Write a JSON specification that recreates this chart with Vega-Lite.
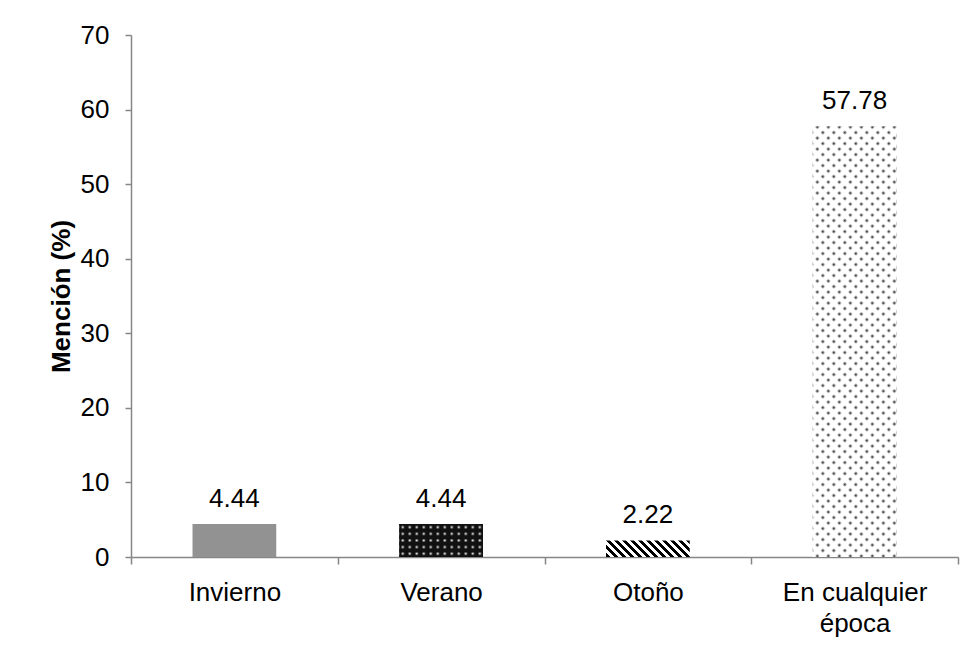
{
  "$schema": "https://vega.github.io/schema/vega-lite/v6.json",
  "width": 827,
  "height": 522,
  "autosize": "none",
  "padding": {"left": 131, "top": 35, "right": 19, "bottom": 94},
  "background": "white",
  "config": {
    "view": {"stroke": null},
    "font": "Liberation Sans",
    "axis": {
      "domainColor": "#868686",
      "domainWidth": 1.5,
      "tickColor": "#868686",
      "tickWidth": 1.5,
      "grid": false,
      "labelColor": "#000000",
      "labelFont": "Liberation Sans",
      "labelFontSize": 26,
      "titleColor": "#000000",
      "titleFont": "Liberation Sans"
    }
  },
  "data": {
    "values": [
      {"categoria": "Invierno", "pct": 4.44},
      {"categoria": "Verano", "pct": 4.44},
      {"categoria": "Otoño", "pct": 2.22},
      {"categoria": "En cualquier época", "pct": 57.78}
    ]
  },
  "encoding": {
    "x": {
      "field": "categoria",
      "type": "nominal",
      "sort": null,
      "scale": {
        "domain": ["Invierno", "Verano", "Otoño", "En cualquier época"],
        "paddingInner": 0,
        "paddingOuter": 0
      },
      "axis": {
        "title": null,
        "labelAngle": 0,
        "tickBand": "extent",
        "tickSize": 7,
        "labelPadding": 15,
        "labelLineHeight": 31,
        "labelExpr": "datum.value == 'En cualquier época' ? ['En cualquier', 'época'] : datum.value"
      }
    },
    "y": {
      "field": "pct",
      "type": "quantitative",
      "scale": {"domain": [0, 70], "nice": false},
      "axis": {
        "title": "Mención (%)",
        "titleFontSize": 26,
        "titleFontWeight": "bold",
        "titlePadding": 6,
        "values": [0, 10, 20, 30, 40, 50, 60, 70],
        "tickSize": 6,
        "labelPadding": 16
      }
    }
  },
  "layer": [
    {
      "transform": [{"filter": "datum.categoria === 'Invierno'"}],
      "mark": {"type": "bar", "width": {"band": 0.405}, "fill": "#929292"}
    },
    {
      "transform": [{"filter": "datum.categoria === 'Verano'"}],
      "mark": {
        "type": "bar",
        "width": {"band": 0.405},
        "fill": {
          "gradient": "linear", "x1": 0, "y1": 0, "x2": 1, "y2": 0,
          "stops": [
            {"offset": 0.0179, "color": "#111111"}, {"offset": 0.0418, "color": "#ffffff"}, {"offset": 0.0657, "color": "#111111"},
            {"offset": 0.1015, "color": "#111111"}, {"offset": 0.1254, "color": "#ffffff"}, {"offset": 0.1493, "color": "#111111"},
            {"offset": 0.1852, "color": "#111111"}, {"offset": 0.2091, "color": "#ffffff"}, {"offset": 0.2330, "color": "#111111"},
            {"offset": 0.2688, "color": "#111111"}, {"offset": 0.2927, "color": "#ffffff"}, {"offset": 0.3166, "color": "#111111"},
            {"offset": 0.3524, "color": "#111111"}, {"offset": 0.3763, "color": "#ffffff"}, {"offset": 0.4002, "color": "#111111"},
            {"offset": 0.4361, "color": "#111111"}, {"offset": 0.4600, "color": "#ffffff"}, {"offset": 0.4839, "color": "#111111"},
            {"offset": 0.5197, "color": "#111111"}, {"offset": 0.5436, "color": "#ffffff"}, {"offset": 0.5675, "color": "#111111"},
            {"offset": 0.6033, "color": "#111111"}, {"offset": 0.6272, "color": "#ffffff"}, {"offset": 0.6511, "color": "#111111"},
            {"offset": 0.6870, "color": "#111111"}, {"offset": 0.7109, "color": "#ffffff"}, {"offset": 0.7348, "color": "#111111"},
            {"offset": 0.7706, "color": "#111111"}, {"offset": 0.7945, "color": "#ffffff"}, {"offset": 0.8184, "color": "#111111"},
            {"offset": 0.8542, "color": "#111111"}, {"offset": 0.8781, "color": "#ffffff"}, {"offset": 0.9020, "color": "#111111"},
            {"offset": 0.9379, "color": "#111111"}, {"offset": 0.9618, "color": "#ffffff"}, {"offset": 0.9857, "color": "#111111"}
          ]
        }
      }
    },
    {
      "transform": [{"filter": "datum.categoria === 'Verano'"}],
      "mark": {
        "type": "bar",
        "width": {"band": 0.405},
        "fill": {
          "gradient": "linear", "x1": 0, "y1": 0, "x2": 0, "y2": 1,
          "stops": [
            {"offset": 0.04, "color": "#111111"}, {"offset": 0.10, "color": "rgba(17,17,17,0)"}, {"offset": 0.16, "color": "#111111"},
            {"offset": 0.24, "color": "#111111"}, {"offset": 0.30, "color": "rgba(17,17,17,0)"}, {"offset": 0.36, "color": "#111111"},
            {"offset": 0.44, "color": "#111111"}, {"offset": 0.50, "color": "rgba(17,17,17,0)"}, {"offset": 0.56, "color": "#111111"},
            {"offset": 0.64, "color": "#111111"}, {"offset": 0.70, "color": "rgba(17,17,17,0)"}, {"offset": 0.76, "color": "#111111"},
            {"offset": 0.84, "color": "#111111"}, {"offset": 0.90, "color": "rgba(17,17,17,0)"}, {"offset": 0.96, "color": "#111111"}
          ]
        }
      }
    },
    {
      "transform": [{"filter": "datum.categoria === 'Otoño'"}],
      "mark": {
        "type": "bar",
        "width": {"band": 0.405},
        "fill": {
          "gradient": "linear", "x1": 0, "y1": 1, "x2": 1.1527, "y2": 0.7721,
          "stops": [
            {"offset": 0, "color": "#000000"}, {"offset": 0.0399, "color": "#000000"}, {"offset": 0.0399, "color": "#ffffff"}, {"offset": 0.0798, "color": "#ffffff"},
            {"offset": 0.0798, "color": "#000000"}, {"offset": 0.1197, "color": "#000000"}, {"offset": 0.1197, "color": "#ffffff"}, {"offset": 0.1596, "color": "#ffffff"},
            {"offset": 0.1596, "color": "#000000"}, {"offset": 0.1995, "color": "#000000"}, {"offset": 0.1995, "color": "#ffffff"}, {"offset": 0.2394, "color": "#ffffff"},
            {"offset": 0.2394, "color": "#000000"}, {"offset": 0.2793, "color": "#000000"}, {"offset": 0.2793, "color": "#ffffff"}, {"offset": 0.3192, "color": "#ffffff"},
            {"offset": 0.3192, "color": "#000000"}, {"offset": 0.3591, "color": "#000000"}, {"offset": 0.3591, "color": "#ffffff"}, {"offset": 0.3990, "color": "#ffffff"},
            {"offset": 0.3990, "color": "#000000"}, {"offset": 0.4389, "color": "#000000"}, {"offset": 0.4389, "color": "#ffffff"}, {"offset": 0.4788, "color": "#ffffff"},
            {"offset": 0.4788, "color": "#000000"}, {"offset": 0.5187, "color": "#000000"}, {"offset": 0.5187, "color": "#ffffff"}, {"offset": 0.5586, "color": "#ffffff"},
            {"offset": 0.5586, "color": "#000000"}, {"offset": 0.5985, "color": "#000000"}, {"offset": 0.5985, "color": "#ffffff"}, {"offset": 0.6384, "color": "#ffffff"},
            {"offset": 0.6384, "color": "#000000"}, {"offset": 0.6783, "color": "#000000"}, {"offset": 0.6783, "color": "#ffffff"}, {"offset": 0.7182, "color": "#ffffff"},
            {"offset": 0.7182, "color": "#000000"}, {"offset": 0.7581, "color": "#000000"}, {"offset": 0.7581, "color": "#ffffff"}, {"offset": 0.7980, "color": "#ffffff"},
            {"offset": 0.7980, "color": "#000000"}, {"offset": 0.8379, "color": "#000000"}, {"offset": 0.8379, "color": "#ffffff"}, {"offset": 0.8778, "color": "#ffffff"},
            {"offset": 0.8778, "color": "#000000"}, {"offset": 0.9177, "color": "#000000"}, {"offset": 0.9177, "color": "#ffffff"}, {"offset": 0.9576, "color": "#ffffff"},
            {"offset": 0.9576, "color": "#000000"}, {"offset": 0.9975, "color": "#000000"}, {"offset": 0.9975, "color": "#ffffff"}, {"offset": 1, "color": "#ffffff"}
          ]
        }
      }
    },
    {
      "transform": [{"filter": "datum.categoria === 'En cualquier época'"}],
      "mark": {
        "type": "bar",
        "width": {"band": 0.405},
        "fill": {
          "gradient": "linear", "x1": 0, "y1": 0, "x2": 0.22354, "y2": 1.15083,
          "stops": [
            {"offset": 0.0047, "color": "#ffffff"}, {"offset": 0.0107, "color": "#111111"}, {"offset": 0.0167, "color": "#ffffff"},
            {"offset": 0.0261, "color": "#ffffff"}, {"offset": 0.0321, "color": "#111111"}, {"offset": 0.0381, "color": "#ffffff"},
            {"offset": 0.0474, "color": "#ffffff"}, {"offset": 0.0534, "color": "#111111"}, {"offset": 0.0594, "color": "#ffffff"},
            {"offset": 0.0688, "color": "#ffffff"}, {"offset": 0.0748, "color": "#111111"}, {"offset": 0.0808, "color": "#ffffff"},
            {"offset": 0.0902, "color": "#ffffff"}, {"offset": 0.0962, "color": "#111111"}, {"offset": 0.1022, "color": "#ffffff"},
            {"offset": 0.1116, "color": "#ffffff"}, {"offset": 0.1176, "color": "#111111"}, {"offset": 0.1236, "color": "#ffffff"},
            {"offset": 0.1329, "color": "#ffffff"}, {"offset": 0.1389, "color": "#111111"}, {"offset": 0.1449, "color": "#ffffff"},
            {"offset": 0.1543, "color": "#ffffff"}, {"offset": 0.1603, "color": "#111111"}, {"offset": 0.1663, "color": "#ffffff"},
            {"offset": 0.1757, "color": "#ffffff"}, {"offset": 0.1817, "color": "#111111"}, {"offset": 0.1877, "color": "#ffffff"},
            {"offset": 0.1971, "color": "#ffffff"}, {"offset": 0.2031, "color": "#111111"}, {"offset": 0.2091, "color": "#ffffff"},
            {"offset": 0.2184, "color": "#ffffff"}, {"offset": 0.2244, "color": "#111111"}, {"offset": 0.2304, "color": "#ffffff"},
            {"offset": 0.2398, "color": "#ffffff"}, {"offset": 0.2458, "color": "#111111"}, {"offset": 0.2518, "color": "#ffffff"},
            {"offset": 0.2612, "color": "#ffffff"}, {"offset": 0.2672, "color": "#111111"}, {"offset": 0.2732, "color": "#ffffff"},
            {"offset": 0.2826, "color": "#ffffff"}, {"offset": 0.2886, "color": "#111111"}, {"offset": 0.2946, "color": "#ffffff"},
            {"offset": 0.3040, "color": "#ffffff"}, {"offset": 0.3100, "color": "#111111"}, {"offset": 0.3160, "color": "#ffffff"},
            {"offset": 0.3253, "color": "#ffffff"}, {"offset": 0.3313, "color": "#111111"}, {"offset": 0.3373, "color": "#ffffff"},
            {"offset": 0.3467, "color": "#ffffff"}, {"offset": 0.3527, "color": "#111111"}, {"offset": 0.3587, "color": "#ffffff"},
            {"offset": 0.3681, "color": "#ffffff"}, {"offset": 0.3741, "color": "#111111"}, {"offset": 0.3801, "color": "#ffffff"},
            {"offset": 0.3895, "color": "#ffffff"}, {"offset": 0.3955, "color": "#111111"}, {"offset": 0.4015, "color": "#ffffff"},
            {"offset": 0.4108, "color": "#ffffff"}, {"offset": 0.4168, "color": "#111111"}, {"offset": 0.4228, "color": "#ffffff"},
            {"offset": 0.4322, "color": "#ffffff"}, {"offset": 0.4382, "color": "#111111"}, {"offset": 0.4442, "color": "#ffffff"},
            {"offset": 0.4536, "color": "#ffffff"}, {"offset": 0.4596, "color": "#111111"}, {"offset": 0.4656, "color": "#ffffff"},
            {"offset": 0.4750, "color": "#ffffff"}, {"offset": 0.4810, "color": "#111111"}, {"offset": 0.4870, "color": "#ffffff"},
            {"offset": 0.4963, "color": "#ffffff"}, {"offset": 0.5023, "color": "#111111"}, {"offset": 0.5083, "color": "#ffffff"},
            {"offset": 0.5177, "color": "#ffffff"}, {"offset": 0.5237, "color": "#111111"}, {"offset": 0.5297, "color": "#ffffff"},
            {"offset": 0.5391, "color": "#ffffff"}, {"offset": 0.5451, "color": "#111111"}, {"offset": 0.5511, "color": "#ffffff"},
            {"offset": 0.5605, "color": "#ffffff"}, {"offset": 0.5665, "color": "#111111"}, {"offset": 0.5725, "color": "#ffffff"},
            {"offset": 0.5818, "color": "#ffffff"}, {"offset": 0.5878, "color": "#111111"}, {"offset": 0.5938, "color": "#ffffff"},
            {"offset": 0.6032, "color": "#ffffff"}, {"offset": 0.6092, "color": "#111111"}, {"offset": 0.6152, "color": "#ffffff"},
            {"offset": 0.6246, "color": "#ffffff"}, {"offset": 0.6306, "color": "#111111"}, {"offset": 0.6366, "color": "#ffffff"},
            {"offset": 0.6460, "color": "#ffffff"}, {"offset": 0.6520, "color": "#111111"}, {"offset": 0.6580, "color": "#ffffff"},
            {"offset": 0.6673, "color": "#ffffff"}, {"offset": 0.6733, "color": "#111111"}, {"offset": 0.6793, "color": "#ffffff"},
            {"offset": 0.6887, "color": "#ffffff"}, {"offset": 0.6947, "color": "#111111"}, {"offset": 0.7007, "color": "#ffffff"},
            {"offset": 0.7101, "color": "#ffffff"}, {"offset": 0.7161, "color": "#111111"}, {"offset": 0.7221, "color": "#ffffff"},
            {"offset": 0.7315, "color": "#ffffff"}, {"offset": 0.7375, "color": "#111111"}, {"offset": 0.7435, "color": "#ffffff"},
            {"offset": 0.7528, "color": "#ffffff"}, {"offset": 0.7588, "color": "#111111"}, {"offset": 0.7648, "color": "#ffffff"},
            {"offset": 0.7742, "color": "#ffffff"}, {"offset": 0.7802, "color": "#111111"}, {"offset": 0.7862, "color": "#ffffff"},
            {"offset": 0.7956, "color": "#ffffff"}, {"offset": 0.8016, "color": "#111111"}, {"offset": 0.8076, "color": "#ffffff"},
            {"offset": 0.8170, "color": "#ffffff"}, {"offset": 0.8230, "color": "#111111"}, {"offset": 0.8290, "color": "#ffffff"},
            {"offset": 0.8384, "color": "#ffffff"}, {"offset": 0.8444, "color": "#111111"}, {"offset": 0.8504, "color": "#ffffff"},
            {"offset": 0.8597, "color": "#ffffff"}, {"offset": 0.8657, "color": "#111111"}, {"offset": 0.8717, "color": "#ffffff"},
            {"offset": 0.8811, "color": "#ffffff"}, {"offset": 0.8871, "color": "#111111"}, {"offset": 0.8931, "color": "#ffffff"},
            {"offset": 0.9025, "color": "#ffffff"}, {"offset": 0.9085, "color": "#111111"}, {"offset": 0.9145, "color": "#ffffff"},
            {"offset": 0.9239, "color": "#ffffff"}, {"offset": 0.9299, "color": "#111111"}, {"offset": 0.9359, "color": "#ffffff"},
            {"offset": 0.9452, "color": "#ffffff"}, {"offset": 0.9512, "color": "#111111"}, {"offset": 0.9572, "color": "#ffffff"},
            {"offset": 0.9666, "color": "#ffffff"}, {"offset": 0.9726, "color": "#111111"}, {"offset": 0.9786, "color": "#ffffff"},
            {"offset": 0.9880, "color": "#ffffff"}, {"offset": 0.9940, "color": "#111111"}, {"offset": 1, "color": "#ffffff"}
          ]
        }
      }
    },
    {
      "transform": [{"filter": "datum.categoria === 'En cualquier época'"}],
      "mark": {
        "type": "bar",
        "width": {"band": 0.405},
        "fill": {
          "gradient": "linear", "x1": 0, "y1": 1, "x2": 0.22354, "y2": -0.15083,
          "stops": [
            {"offset": 0.0047, "color": "#ffffff"}, {"offset": 0.0107, "color": "rgba(255,255,255,0)"}, {"offset": 0.0167, "color": "#ffffff"},
            {"offset": 0.0261, "color": "#ffffff"}, {"offset": 0.0321, "color": "rgba(255,255,255,0)"}, {"offset": 0.0381, "color": "#ffffff"},
            {"offset": 0.0474, "color": "#ffffff"}, {"offset": 0.0534, "color": "rgba(255,255,255,0)"}, {"offset": 0.0594, "color": "#ffffff"},
            {"offset": 0.0688, "color": "#ffffff"}, {"offset": 0.0748, "color": "rgba(255,255,255,0)"}, {"offset": 0.0808, "color": "#ffffff"},
            {"offset": 0.0902, "color": "#ffffff"}, {"offset": 0.0962, "color": "rgba(255,255,255,0)"}, {"offset": 0.1022, "color": "#ffffff"},
            {"offset": 0.1116, "color": "#ffffff"}, {"offset": 0.1176, "color": "rgba(255,255,255,0)"}, {"offset": 0.1236, "color": "#ffffff"},
            {"offset": 0.1329, "color": "#ffffff"}, {"offset": 0.1389, "color": "rgba(255,255,255,0)"}, {"offset": 0.1449, "color": "#ffffff"},
            {"offset": 0.1543, "color": "#ffffff"}, {"offset": 0.1603, "color": "rgba(255,255,255,0)"}, {"offset": 0.1663, "color": "#ffffff"},
            {"offset": 0.1757, "color": "#ffffff"}, {"offset": 0.1817, "color": "rgba(255,255,255,0)"}, {"offset": 0.1877, "color": "#ffffff"},
            {"offset": 0.1971, "color": "#ffffff"}, {"offset": 0.2031, "color": "rgba(255,255,255,0)"}, {"offset": 0.2091, "color": "#ffffff"},
            {"offset": 0.2184, "color": "#ffffff"}, {"offset": 0.2244, "color": "rgba(255,255,255,0)"}, {"offset": 0.2304, "color": "#ffffff"},
            {"offset": 0.2398, "color": "#ffffff"}, {"offset": 0.2458, "color": "rgba(255,255,255,0)"}, {"offset": 0.2518, "color": "#ffffff"},
            {"offset": 0.2612, "color": "#ffffff"}, {"offset": 0.2672, "color": "rgba(255,255,255,0)"}, {"offset": 0.2732, "color": "#ffffff"},
            {"offset": 0.2826, "color": "#ffffff"}, {"offset": 0.2886, "color": "rgba(255,255,255,0)"}, {"offset": 0.2946, "color": "#ffffff"},
            {"offset": 0.3040, "color": "#ffffff"}, {"offset": 0.3100, "color": "rgba(255,255,255,0)"}, {"offset": 0.3160, "color": "#ffffff"},
            {"offset": 0.3253, "color": "#ffffff"}, {"offset": 0.3313, "color": "rgba(255,255,255,0)"}, {"offset": 0.3373, "color": "#ffffff"},
            {"offset": 0.3467, "color": "#ffffff"}, {"offset": 0.3527, "color": "rgba(255,255,255,0)"}, {"offset": 0.3587, "color": "#ffffff"},
            {"offset": 0.3681, "color": "#ffffff"}, {"offset": 0.3741, "color": "rgba(255,255,255,0)"}, {"offset": 0.3801, "color": "#ffffff"},
            {"offset": 0.3895, "color": "#ffffff"}, {"offset": 0.3955, "color": "rgba(255,255,255,0)"}, {"offset": 0.4015, "color": "#ffffff"},
            {"offset": 0.4108, "color": "#ffffff"}, {"offset": 0.4168, "color": "rgba(255,255,255,0)"}, {"offset": 0.4228, "color": "#ffffff"},
            {"offset": 0.4322, "color": "#ffffff"}, {"offset": 0.4382, "color": "rgba(255,255,255,0)"}, {"offset": 0.4442, "color": "#ffffff"},
            {"offset": 0.4536, "color": "#ffffff"}, {"offset": 0.4596, "color": "rgba(255,255,255,0)"}, {"offset": 0.4656, "color": "#ffffff"},
            {"offset": 0.4750, "color": "#ffffff"}, {"offset": 0.4810, "color": "rgba(255,255,255,0)"}, {"offset": 0.4870, "color": "#ffffff"},
            {"offset": 0.4963, "color": "#ffffff"}, {"offset": 0.5023, "color": "rgba(255,255,255,0)"}, {"offset": 0.5083, "color": "#ffffff"},
            {"offset": 0.5177, "color": "#ffffff"}, {"offset": 0.5237, "color": "rgba(255,255,255,0)"}, {"offset": 0.5297, "color": "#ffffff"},
            {"offset": 0.5391, "color": "#ffffff"}, {"offset": 0.5451, "color": "rgba(255,255,255,0)"}, {"offset": 0.5511, "color": "#ffffff"},
            {"offset": 0.5605, "color": "#ffffff"}, {"offset": 0.5665, "color": "rgba(255,255,255,0)"}, {"offset": 0.5725, "color": "#ffffff"},
            {"offset": 0.5818, "color": "#ffffff"}, {"offset": 0.5878, "color": "rgba(255,255,255,0)"}, {"offset": 0.5938, "color": "#ffffff"},
            {"offset": 0.6032, "color": "#ffffff"}, {"offset": 0.6092, "color": "rgba(255,255,255,0)"}, {"offset": 0.6152, "color": "#ffffff"},
            {"offset": 0.6246, "color": "#ffffff"}, {"offset": 0.6306, "color": "rgba(255,255,255,0)"}, {"offset": 0.6366, "color": "#ffffff"},
            {"offset": 0.6460, "color": "#ffffff"}, {"offset": 0.6520, "color": "rgba(255,255,255,0)"}, {"offset": 0.6580, "color": "#ffffff"},
            {"offset": 0.6673, "color": "#ffffff"}, {"offset": 0.6733, "color": "rgba(255,255,255,0)"}, {"offset": 0.6793, "color": "#ffffff"},
            {"offset": 0.6887, "color": "#ffffff"}, {"offset": 0.6947, "color": "rgba(255,255,255,0)"}, {"offset": 0.7007, "color": "#ffffff"},
            {"offset": 0.7101, "color": "#ffffff"}, {"offset": 0.7161, "color": "rgba(255,255,255,0)"}, {"offset": 0.7221, "color": "#ffffff"},
            {"offset": 0.7315, "color": "#ffffff"}, {"offset": 0.7375, "color": "rgba(255,255,255,0)"}, {"offset": 0.7435, "color": "#ffffff"},
            {"offset": 0.7528, "color": "#ffffff"}, {"offset": 0.7588, "color": "rgba(255,255,255,0)"}, {"offset": 0.7648, "color": "#ffffff"},
            {"offset": 0.7742, "color": "#ffffff"}, {"offset": 0.7802, "color": "rgba(255,255,255,0)"}, {"offset": 0.7862, "color": "#ffffff"},
            {"offset": 0.7956, "color": "#ffffff"}, {"offset": 0.8016, "color": "rgba(255,255,255,0)"}, {"offset": 0.8076, "color": "#ffffff"},
            {"offset": 0.8170, "color": "#ffffff"}, {"offset": 0.8230, "color": "rgba(255,255,255,0)"}, {"offset": 0.8290, "color": "#ffffff"},
            {"offset": 0.8384, "color": "#ffffff"}, {"offset": 0.8444, "color": "rgba(255,255,255,0)"}, {"offset": 0.8504, "color": "#ffffff"},
            {"offset": 0.8597, "color": "#ffffff"}, {"offset": 0.8657, "color": "rgba(255,255,255,0)"}, {"offset": 0.8717, "color": "#ffffff"},
            {"offset": 0.8811, "color": "#ffffff"}, {"offset": 0.8871, "color": "rgba(255,255,255,0)"}, {"offset": 0.8931, "color": "#ffffff"},
            {"offset": 0.9025, "color": "#ffffff"}, {"offset": 0.9085, "color": "rgba(255,255,255,0)"}, {"offset": 0.9145, "color": "#ffffff"},
            {"offset": 0.9239, "color": "#ffffff"}, {"offset": 0.9299, "color": "rgba(255,255,255,0)"}, {"offset": 0.9359, "color": "#ffffff"},
            {"offset": 0.9452, "color": "#ffffff"}, {"offset": 0.9512, "color": "rgba(255,255,255,0)"}, {"offset": 0.9572, "color": "#ffffff"},
            {"offset": 0.9666, "color": "#ffffff"}, {"offset": 0.9726, "color": "rgba(255,255,255,0)"}, {"offset": 0.9786, "color": "#ffffff"},
            {"offset": 0.9880, "color": "#ffffff"}, {"offset": 0.9940, "color": "rgba(255,255,255,0)"}, {"offset": 1, "color": "#ffffff"}
          ]
        }
      }
    },
    {
      "mark": {
        "type": "text",
        "baseline": "alphabetic",
        "dy": -17,
        "fontSize": 26,
        "font": "Liberation Sans",
        "color": "#000000"
      },
      "encoding": {
        "text": {"field": "pct", "type": "quantitative", "format": ".2f"}
      }
    }
  ]
}
